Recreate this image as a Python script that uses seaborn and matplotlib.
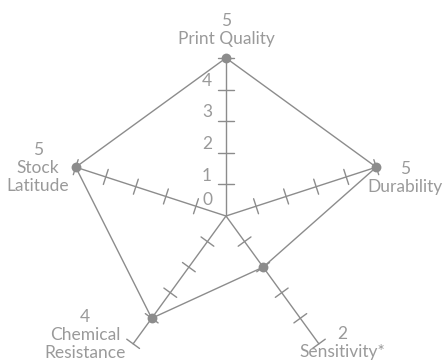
import numpy as np
import pandas as pd
import matplotlib
matplotlib.use("Agg")
import matplotlib.pyplot as plt
import seaborn as sns

# Chart data
categories = ["Print Quality", "Durability", "Sensitivity*", "Chemical Resistance", "Stock Latitude"]
label_text = ["Print Quality", "Durability", "Sensitivity*", "Chemical\nResistance", "Stock\nLatitude"]
values = [5, 5, 2, 4, 5]
scale_max = 5
tick_values = [0, 1, 2, 3, 4]

sns.set_theme(style="white")
plt.rcParams['font.family'] = ['Lato', 'DejaVu Sans']

line_col = "#8c8c8c"
text_col = "#9a9a9a"

fig = plt.figure(figsize=(4.46, 3.62), dpi=100)
ax = fig.add_axes([0, 0, 1, 1])

# angles: start at top, go clockwise
angles = np.deg2rad(90 - 72 * np.arange(len(categories)))

# spokes with perpendicular ticks
for a in angles:
    ux, uy = np.cos(a), np.sin(a)
    px, py = -uy, ux
    ax.plot([0, scale_max * ux], [0, scale_max * uy], color=line_col, lw=1, zorder=1)
    for r in range(1, scale_max + 1):
        cx, cy = r * ux, r * uy
        ax.plot([cx - 0.25 * px, cx + 0.25 * px], [cy - 0.25 * py, cy + 0.25 * py],
                color=line_col, lw=1, zorder=1)

# data polygon
df = pd.DataFrame({
    "category": categories + [categories[0]],
    "x": [v * np.cos(a) for v, a in zip(values, angles)] + [values[0] * np.cos(angles[0])],
    "y": [v * np.sin(a) for v, a in zip(values, angles)] + [values[0] * np.sin(angles[0])],
})
sns.lineplot(data=df, x="x", y="y", sort=False, estimator=None, color=line_col, lw=1, ax=ax, zorder=2)
sns.scatterplot(data=df.iloc[:-1], x="x", y="y", color=line_col, s=50, edgecolor=line_col,
                linewidth=0, ax=ax, zorder=3)

# scale labels along the top spoke
for t in tick_values:
    ax.text(-0.6, t + (0.5 if t == 0 else 0.28), str(t), ha="center", va="center",
            fontsize=12.5, color=text_col)

# category labels (value above name)
label_pos = [(0.0, 5.89), (5.66, 1.20), (3.67, -4.02), (-4.46, -3.77), (-5.95, 1.52)]
for (lx, ly), name, v in zip(label_pos, label_text, values):
    ax.text(lx, ly, f"{v}\n{name}", ha="center", va="center", fontsize=12.5,
            color=text_col, linespacing=1.15)

ax.set_xlim(-7.152, 6.962)
ax.set_ylim(-4.620, 6.835)
ax.set_aspect("auto")
ax.axis("off")

fig.savefig("out.png", dpi=100, facecolor="white")
